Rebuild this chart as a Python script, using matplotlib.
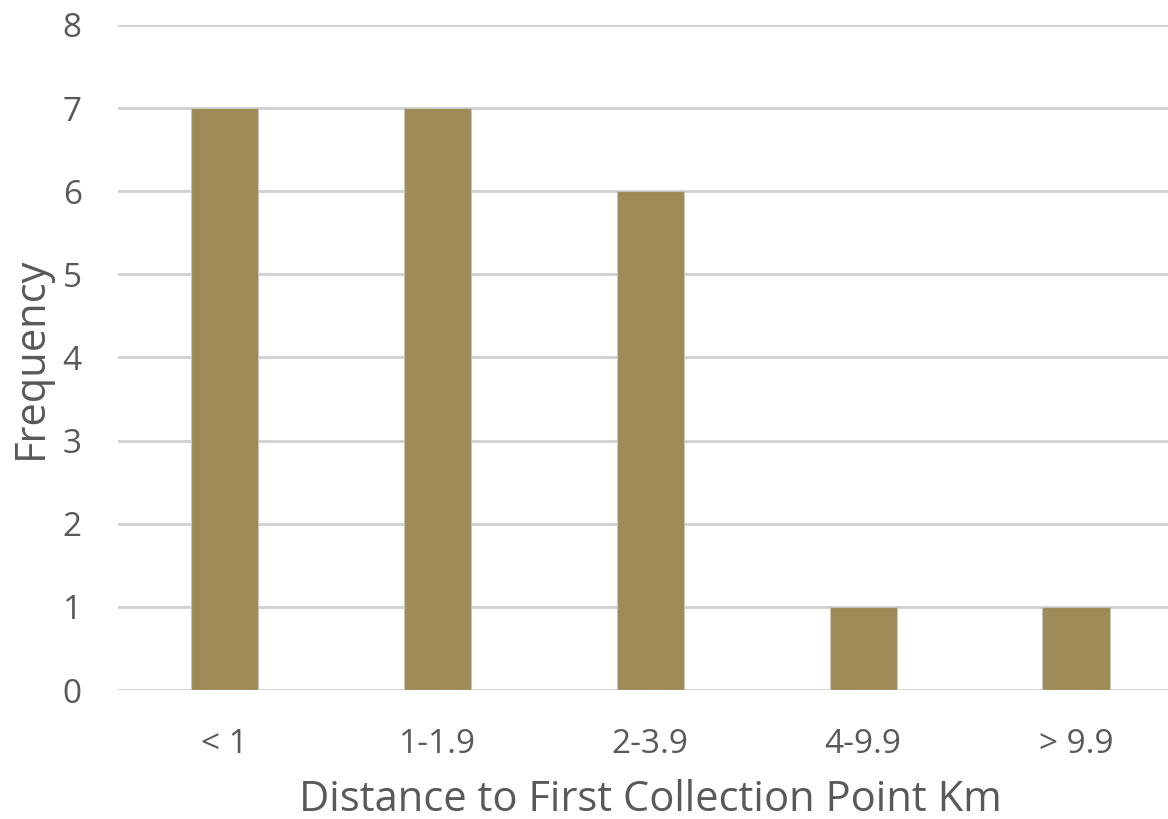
import matplotlib.pyplot as plt

# distance bins and counts
categories = ['< 1', '1-1.9', '2-3.9', '4-9.9', '> 9.9']
frequency = [7, 7, 6, 1, 1]

plt.rcParams['font.family'] = ['Open Sans', 'DejaVu Sans']
text_grey = '#595959'

fig = plt.figure(figsize=(11.68, 8.19), dpi=100)
ax = fig.add_axes([0.101, 0.1575, 0.9114, 0.812])

x = range(len(categories))
ax.bar(x, frequency, width=0.315, color='#9E8B58', edgecolor='#c4c4c4',
       linewidth=0.8, zorder=3)

ax.set_xlim(-0.5, len(categories) - 0.5)
ax.set_ylim(0, 8)
ax.set_yticks(range(0, 9))
ax.set_xticks(list(x))
ax.set_xticklabels(categories)

ax.grid(axis='y', color='#d0d0d0', linewidth=2, zorder=0)
for s in ax.spines.values():
    s.set_visible(False)
ax.tick_params(axis='both', length=0, labelsize=24, colors=text_grey)
ax.tick_params(axis='y', pad=26)
ax.tick_params(axis='x', pad=27)

ax.set_xlabel('Distance to First Collection Point Km', fontsize=30,
              color=text_grey, labelpad=13)
ax.set_ylabel('Frequency', fontsize=30, color=text_grey, labelpad=8)

fig.savefig('out.png', dpi=100)
